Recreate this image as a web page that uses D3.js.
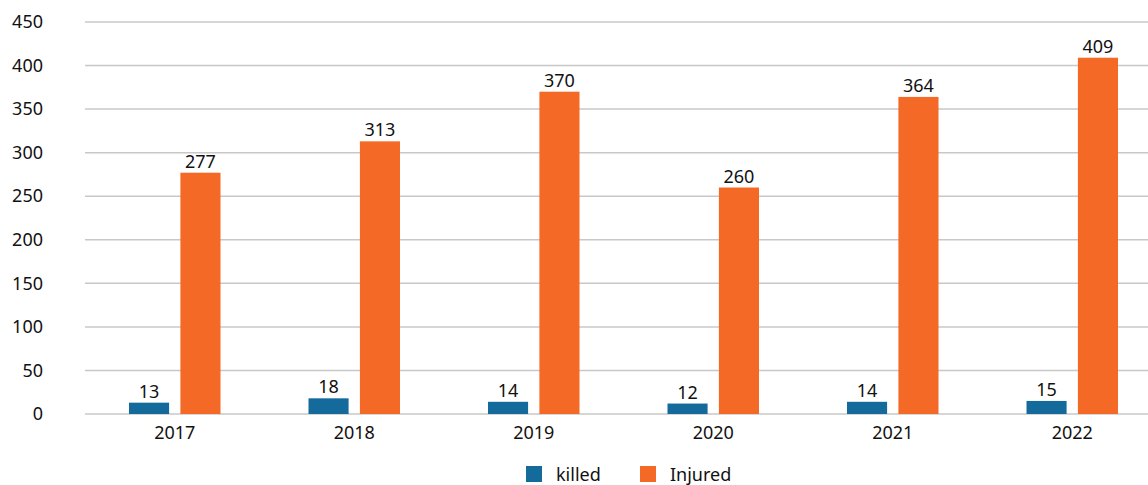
<!DOCTYPE html>
<html>
<head>
<meta charset="utf-8">
<script src="https://cdn.jsdelivr.net/npm/d3@7"></script>
<style>
  body { margin: 0; background: #fff; }
  svg text { font-family: "Noto Sans", "Open Sans", sans-serif; fill: #111; }
</style>
</head>
<body>
<div id="chart-area"></div>
<script>
var years = ['2017', '2018', '2019', '2020', '2021', '2022'];
var killed = [13, 18, 14, 12, 14, 15];
var injured = [277, 313, 370, 260, 364, 409];
var yTicks = [0, 50, 100, 150, 200, 250, 300, 350, 400, 450];
var seriesNames = ['killed', 'Injured'];
var seriesColors = ['#136a9b', '#f36925'];

var margin = { top: 22, right: 0, bottom: 71, left: 85 },
    width = 1162 - margin.left,
    height = 485 - margin.top - margin.bottom;

var svg = d3.select('#chart-area').append('svg')
    .attr('width', 1148)
    .attr('height', 485)
  .append('g')
    .attr('transform', 'translate(' + margin.left + ',' + margin.top + ')');

//x scale
var x = d3.scaleBand()
  .domain(years)
  .range([0, width]);

var x1 = d3.scaleBand()
  .domain(seriesNames)
  .range([44, x.bandwidth() - 44])
  .paddingInner(0.22);

//y scale
var y = d3.scaleLinear()
  .domain([0, 450])
  .range([height, 0]);

var color = d3.scaleOrdinal().domain(seriesNames).range(seriesColors);

//gridlines
svg.append('g')
  .selectAll('line')
  .data(yTicks)
  .enter().append('line')
    .attr('x1', 0)
    .attr('x2', width)
    .attr('y1', function(d){ return y(d); })
    .attr('y2', function(d){ return y(d); })
    .attr('stroke', '#c8c8c8')
    .attr('stroke-width', 1.5);

//y axis
var yAxis = d3.axisLeft(y).tickValues(yTicks).tickSize(0).tickPadding(42);
svg.append('g')
  .call(yAxis)
  .call(function(g){ g.select('.domain').remove(); })
  .selectAll('text')
    .attr('font-size', '18px')
    .style('font-family', '"Noto Sans", sans-serif');

//x axis
var xAxis = d3.axisBottom(x).tickSize(0).tickPadding(12);
svg.append('g')
  .attr('transform', 'translate(0,' + height + ')')
  .call(xAxis)
  .call(function(g){ g.select('.domain').remove(); })
  .selectAll('text')
    .attr('font-size', '18px')
    .style('font-family', '"Noto Sans", sans-serif');

//bars
var rows = years.map(function(yr, i){
  return { year: yr, values: [
    { key: 'killed', value: killed[i] },
    { key: 'Injured', value: injured[i] }
  ]};
});

var groups = svg.selectAll('.year-group')
  .data(rows)
  .enter().append('g')
    .attr('class', 'year-group')
    .attr('transform', function(d){ return 'translate(' + x(d.year) + ',0)'; });

groups.selectAll('rect')
  .data(function(d){ return d.values; })
  .enter().append('rect')
    .attr('x', function(d){ return x1(d.key); })
    .attr('width', x1.bandwidth())
    .attr('y', function(d){ return y(d.value); })
    .attr('height', function(d){ return height - y(d.value); })
    .attr('fill', function(d){ return color(d.key); });

groups.selectAll('.label')
  .data(function(d){ return d.values; })
  .enter().append('text')
    .attr('class', 'label')
    .attr('x', function(d){ return x1(d.key) + x1.bandwidth() / 2; })
    .attr('y', function(d){ return y(d.value) - 5; })
    .attr('text-anchor', 'middle')
    .attr('font-size', '18px')
    .text(function(d){ return d.value; });

//legend
var legend = svg.append('g')
  .attr('transform', 'translate(' + (526 - margin.left) + ',' + (466 - margin.top) + ')');

seriesNames.forEach(function(name, i){
  var row = legend.append('g')
    .attr('transform', 'translate(' + (i * 114) + ',0)');
  row.append('rect')
    .attr('width', 16)
    .attr('height', 16)
    .attr('fill', color(name));
  row.append('text')
    .attr('x', 30)
    .attr('y', 15)
    .attr('font-size', '18px')
    .text(name);
});
</script>
</body>
</html>
